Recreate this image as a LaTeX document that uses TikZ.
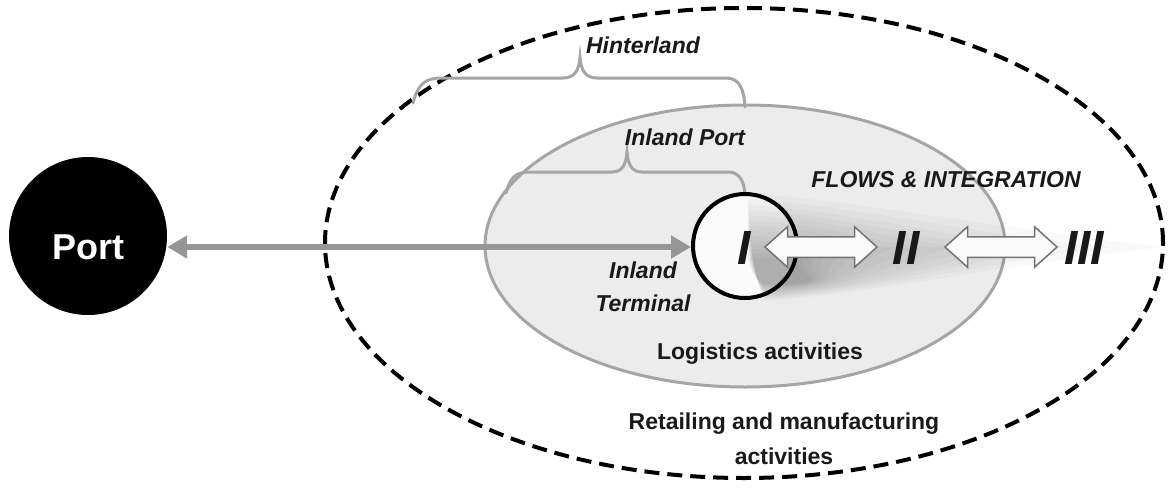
\documentclass[tikz,border=0pt]{standalone}
\usepackage{fontspec}
\setmainfont{Liberation Sans}
\usetikzlibrary{arrows.meta,shapes.arrows}
\definecolor{arrgray}{RGB}{150,150,150}
\definecolor{ellgray}{RGB}{165,165,165}
\definecolor{ellfill}{RGB}{236,236,236}
\definecolor{txt}{RGB}{25,25,25}
\definecolor{hollowedge}{RGB}{115,115,115}
\begin{document}
\begin{tikzpicture}[x=1pt,y=-1pt,
  lbl/.style={text=txt, font=\fontsize{23}{33}\selectfont\bfseries\itshape, inner sep=0pt, align=center},
  upl/.style={text=txt, font=\fontsize{23}{35}\selectfont\bfseries, inner sep=0pt, align=center},
  numeral/.style={text=txt, font=\fontsize{48}{48}\selectfont\bfseries\itshape, inner sep=0pt},
  bracepath/.style={draw=ellgray, line width=3pt, line cap=round},
  hollow/.style={double arrow, draw=hollowedge, fill=gray!4, line width=1.5pt,
     minimum height=112pt, inner xsep=0pt, inner ysep=9.5pt, double arrow head extend=10pt,
     double arrow tip angle=84},
  mainarrow/.style={draw=arrgray, line width=5.5pt, {Triangle[length=20pt,width=22pt]}-{Triangle[length=20pt,width=22pt]}},
  flowshade/.style={fill=black, fill opacity=0.025}
]
\useasboundingbox (0,0) rectangle (1169,487);

% outer dashed hinterland ellipse
\draw[line width=4pt, dash pattern=on 15pt off 8pt] (744,243) ellipse [x radius=419pt, y radius=235pt];

% inland port ellipse
\draw[draw=ellgray, fill=ellfill, line width=3pt] (745,246) ellipse [x radius=260pt, y radius=141pt];

% braces
\draw[bracepath] (413,103) .. controls (418,84) and (425,78) .. (442,78) -- (563,78)
  .. controls (575,78) and (579,70) .. (580,57)
  .. controls (581,70) and (585,78) .. (597,78) -- (726,78)
  .. controls (740,78) and (744,90) .. (745,107);
\draw[bracepath] (506,193) .. controls (510,178) and (515,172) .. (530,172) -- (612,172)
  .. controls (622,172) and (626,165) .. (627,152)
  .. controls (628,165) and (632,172) .. (642,172) -- (728,172)
  .. controls (740,172) and (744,182) .. (745,194);

% circle I background
\node[circle, fill=gray!3, minimum size=104pt, inner sep=0pt] (Ibg) at (745,246) {};

% flows shading (layered translucent fills for a soft look)
\foreach \s in {1.0,0.93,0.86,0.8,0.74,0.68,0.62,0.56,0.5,0.45,0.4,0.35,0.3,0.25} {
  \pgfmathsetmacro\c{247+(1-\s)*32}
  \pgfmathsetmacro\xe{775+390*\s*\s}
  \fill[flowshade]
    (748,\c-54*\s) .. controls (860,\c-46*\s) and (\xe-110*\s,\c-10*\s) .. (\xe,247)
    .. controls (\xe-110*\s,\c+10*\s) and (860,\c+48*\s) .. (765,\c+54*\s)
    .. controls (752,\c+30*\s) and (748,\c-30*\s) .. cycle;
}

% port
\node[circle, fill=black, minimum size=158pt, inner sep=0pt] (port) at (88,236) {};
\node[text=white, font=\fontsize{36}{36}\selectfont\bfseries, inner sep=0pt] (porttext) at (88,247) {Port};

% circle I
\node[circle, draw=black, line width=4pt, minimum size=104pt, inner sep=0pt] (I) at (Ibg) {};
\node[numeral] (n1) at (744,248) {I};
\node[numeral] (n2) at (906,248) {II};
\node[numeral] (n3) at (1084,248) {III};

% main arrow
\draw[mainarrow] (I.west |- 0,247) -- (port.east |- 0,247);

% hollow double arrows
\node[hollow] (h1) at (821,247) {};
\node[hollow] (h2) at (1001,247) {};

% labels
\node[lbl] (hinter) at (643,45) {Hinterland};
\node[lbl] (inport) at (685,137) {Inland Port};
\node[lbl] (flows) at (946,180) {FLOWS \& INTEGRATION};
\node[lbl] (terminal) at (643,287) {Inland\\Terminal};
\node[upl] (logist) at (760,354) {Logistics activities};
\node[upl] (retail) at (784,439) {Retailing and manufacturing\\activities};
\end{tikzpicture}
\end{document}
